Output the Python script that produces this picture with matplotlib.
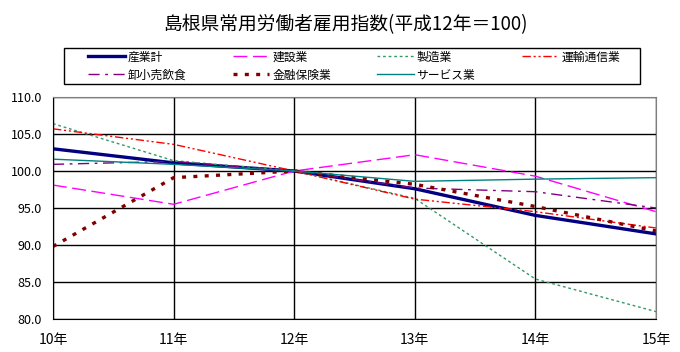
import numpy as np
import matplotlib
matplotlib.use("Agg")
import matplotlib.pyplot as plt
from matplotlib.patches import Rectangle

plt.rcParams['font.family'] = ['Noto Sans CJK JP', 'DejaVu Sans']

# datos
anos = ["10年", "11年", "12年", "13年", "14年", "15年"]
sangyokei = [103.0, 101.1, 100.0, 97.6, 94.0, 91.5]
kensetsu = [98.1, 95.5, 100.0, 102.2, 99.3, 94.5]
seizo = [106.4, 101.4, 100.0, 96.3, 85.4, 81.0]
unyu = [105.7, 103.6, 100.0, 96.2, 94.5, 92.3]
oroshi = [100.9, 101.3, 100.0, 97.7, 97.2, 95.0]
kinyu = [89.8, 99.1, 100.0, 98.2, 95.2, 91.9]
service = [101.6, 100.9, 100.0, 98.6, 98.9, 99.1]

x = np.arange(len(anos))

W, H = 680.0, 352.0
fig = plt.figure(figsize=(6.8, 3.52), dpi=100)
ax = fig.add_axes([53 / W, 1 - 319 / H, 603 / W, 222 / H])

l1, = ax.plot(x, sangyokei, color="#000080", lw=2.4, label="産業計")
l2, = ax.plot(x, kensetsu, color="#FF00FF", lw=1.0, dashes=(10, 4), label="建設業")
l3, = ax.plot(x, seizo, color="#339966", lw=1.0, dashes=(2, 2), label="製造業")
l4, = ax.plot(x, unyu, color="#FF0000", lw=1.0, dashes=(6, 2, 1.5, 2, 1.5, 2), label="運輸通信業")
l5, = ax.plot(x, oroshi, color="#800080", lw=1.0, dashes=(8, 4, 2, 4), label="卸小売飲食")
l6, = ax.plot(x, kinyu, color="#800000", lw=2.4, dashes=(1.2, 2.2), label="金融保険業")
l7, = ax.plot(x, service, color="#008080", lw=1.0, label="サービス業")

ax.set_xlim(0, 5)
ax.set_ylim(80, 110)
ax.set_yticks(np.arange(80, 111, 5))
ax.set_yticklabels(["%.1f" % v for v in np.arange(80, 111, 5)])
ax.set_xticks(x)
ax.set_xticklabels(anos)
ax.tick_params(length=0)
ax.tick_params(axis="y", labelsize=9, pad=8)
ax.tick_params(axis="x", labelsize=10, pad=10)
ax.grid(True, color="black", lw=1.0)
ax.set_axisbelow(True)
for s in ["left", "bottom"]:
    ax.spines[s].set_color("black")
for s in ["top", "right"]:
    ax.spines[s].set_color("#808080")

fig.text(345 / W, 1 - 25 / H, "島根県常用労働者雇用指数(平成12年＝100)",
         ha="center", va="center", fontsize=13.5)

# caja de la leyenda
fig.patches.append(Rectangle((64 / W, 1 - 84 / H), 576 / W, 36 / H, transform=fig.transFigure,
                             fill=False, edgecolor="black", lw=1.0))

handles = [l1, l5, l2, l6, l3, l7, l4]
leg = fig.legend(handles=handles, labels=[h.get_label() for h in handles], ncol=4,
                 loc="center left", bbox_to_anchor=(88 / W, 1 - 84 / H, 532 / W, 36 / H),
                 mode="expand", frameon=False, fontsize=8.5, handlelength=3.1,
                 handletextpad=0.25, borderpad=0, labelspacing=0.44, borderaxespad=0)

fig.savefig("out.png", dpi=100)
